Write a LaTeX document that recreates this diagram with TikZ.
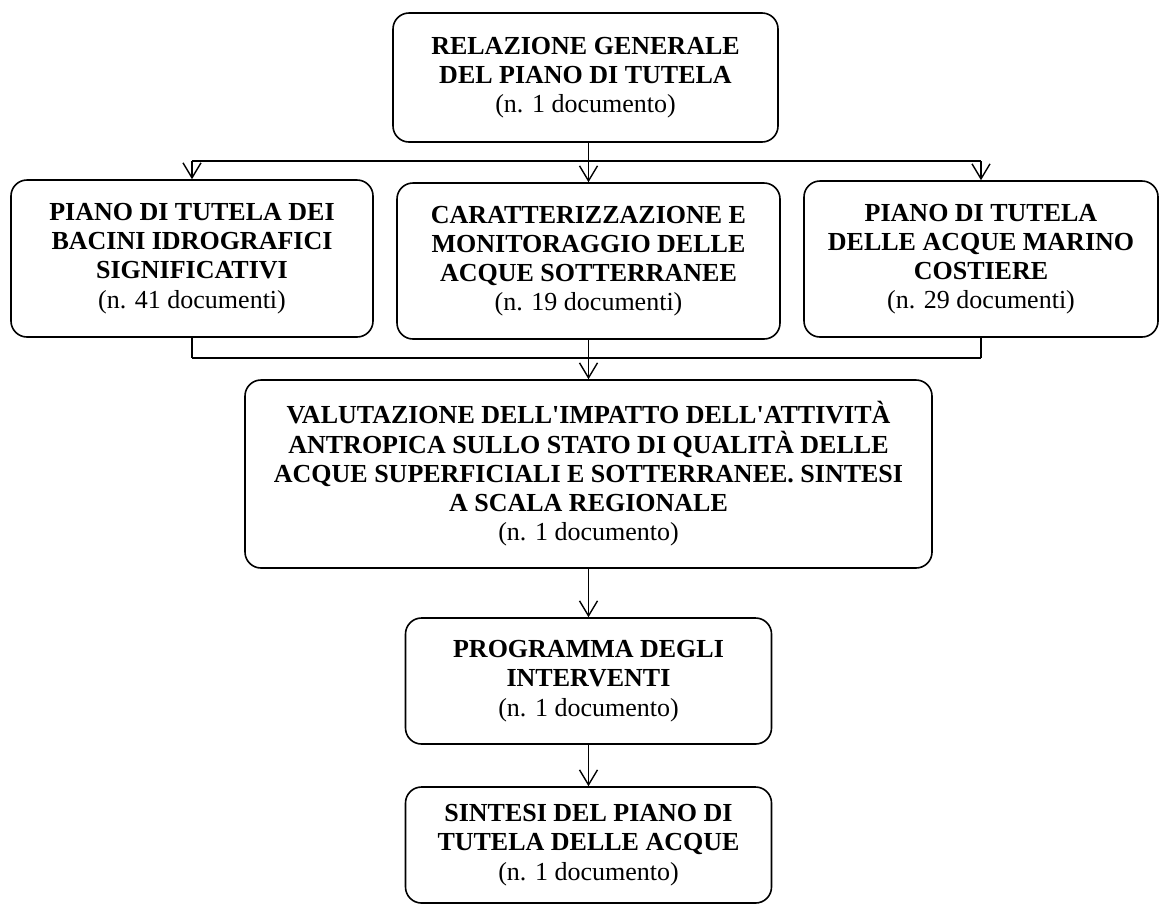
\documentclass[tikz,border=0pt]{standalone}
\usepackage{fontspec}
\setmainfont{Liberation Serif}
\usetikzlibrary{arrows.meta}

\tikzset{
  blocco/.style={draw, line width=0.8pt, rounded corners=8pt, align=center, inner sep=2pt,
    font=\fontsize{13}{14.6}\selectfont},
  freccia/.style={-{Straight Barb[length=7.5pt,width=9pt]}, line width=0.7pt},
  linea/.style={line width=0.7pt}
}

\begin{document}
\begin{tikzpicture}[x=0.5pt,y=-0.5pt]
\useasboundingbox (0,0) rectangle (1159,906);

\node[blocco, minimum width=192.5pt, minimum height=64.5pt] (rel) at (585.5,77.5)
  {\textbf{RELAZIONE GENERALE}\\\textbf{DEL PIANO DI TUTELA}\\(n. 1 documento)};

\node[blocco, minimum width=181pt, minimum height=78.5pt] (bac) at (192,258.5)
  {\textbf{PIANO DI TUTELA DEI}\\\textbf{BACINI IDROGRAFICI}\\\textbf{SIGNIFICATIVI}\\(n. 41 documenti)};
\node[blocco, minimum width=191.5pt, minimum height=78pt] (car) at (588.5,261)
  {\textbf{CARATTERIZZAZIONE E}\\\textbf{MONITORAGGIO DELLE}\\\textbf{ACQUE SOTTERRANEE}\\(n. 19 documenti)};
\node[blocco, minimum width=177pt, minimum height=78pt] (mar) at (981,259)
  {\textbf{PIANO DI TUTELA}\\\textbf{DELLE ACQUE MARINO}\\\textbf{COSTIERE}\\(n. 29 documenti)};

\node[blocco, minimum width=343.5pt, minimum height=94pt] (val) at (588.5,474)
  {\textbf{VALUTAZIONE DELL\textquotesingle IMPATTO DELL\textquotesingle ATTIVITÀ}\\\textbf{ANTROPICA SULLO STATO DI QUALITÀ DELLE}\\\textbf{ACQUE SUPERFICIALI E SOTTERRANEE. SINTESI}\\\textbf{A SCALA REGIONALE}\\(n. 1 documento)};

\node[blocco, minimum width=183pt, minimum height=63pt] (prog) at (588.5,681)
  {\textbf{PROGRAMMA DEGLI}\\\textbf{INTERVENTI}\\(n. 1 documento)};
\node[blocco, minimum width=183pt, minimum height=58pt] (sint) at (588.5,845)
  {\textbf{SINTESI DEL PIANO DI}\\\textbf{TUTELA DELLE ACQUE}\\(n. 1 documento)};

% ramificazione superiore
\coordinate (split) at (588.5,161);
\draw[linea] (split |- rel.south) -- (split);
\draw[linea] (bac.north |- split) -- (mar.north |- split);
\foreach \b in {bac,car,mar}
  \draw[freccia] (\b.north |- split) -- (\b.north);

% raccolta inferiore
\coordinate (join) at (588.5,358);
\draw[linea] (bac.south |- join) -- (mar.south |- join);
\foreach \b in {bac,car,mar}
  \draw[linea] (\b.south) -- (\b.south |- join);
\draw[freccia] (join) -- (val.north);

\draw[freccia] (val.south) -- (prog.north);
\draw[freccia] (prog.south) -- (sint.north);
\end{tikzpicture}
\end{document}
